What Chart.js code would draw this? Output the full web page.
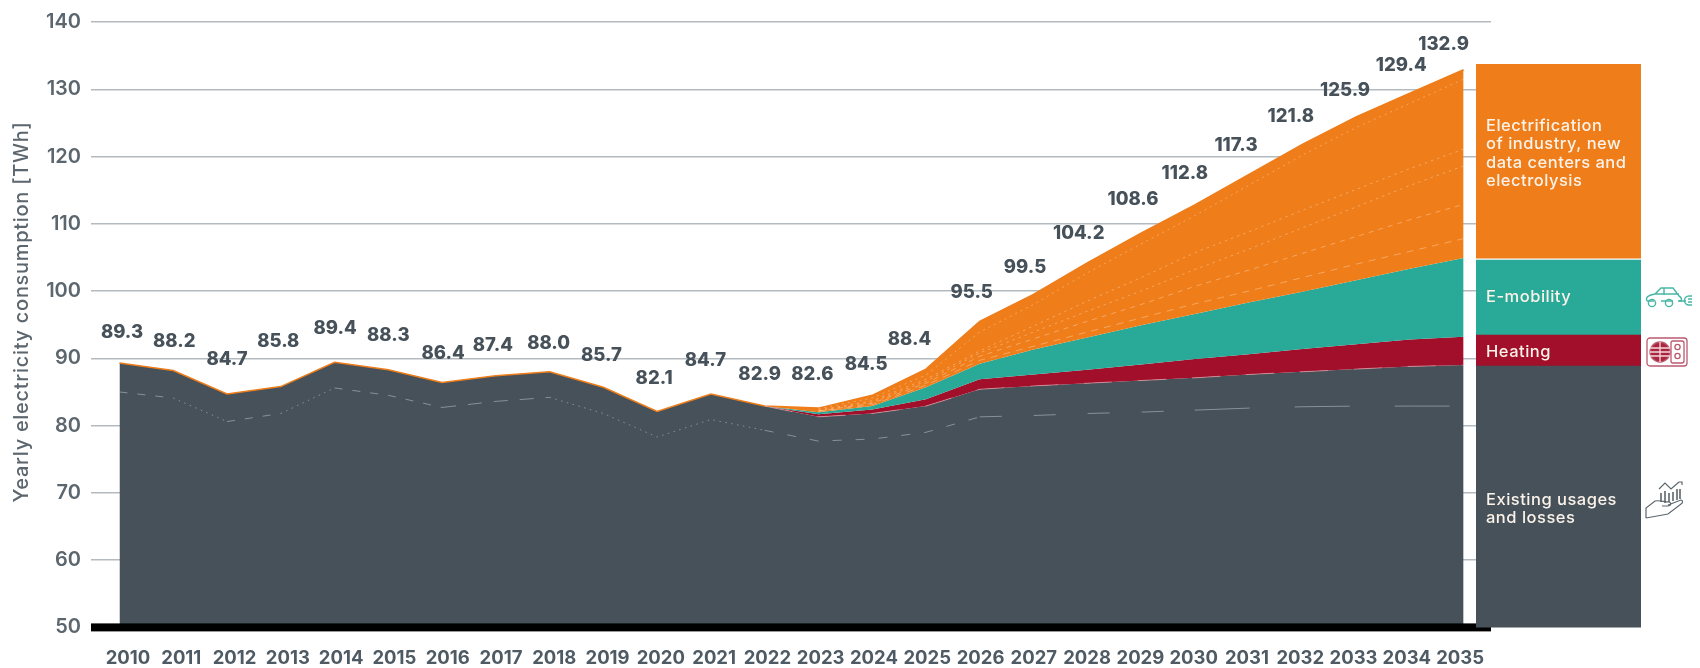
<!DOCTYPE html>
<html>
<head>
<meta charset="utf-8">
<title>Yearly electricity consumption</title>
<script src="https://cdn.jsdelivr.net/npm/chart.js@4"></script>
<style>
    html, body { margin: 0; padding: 0; background: #fff; }
    #wrap { position: relative; width: 1700px; height: 668px; overflow: hidden; }
    canvas { position: absolute; top: 0; }
    #main-chart { left: 0; }
    #block-chart { left: 1476px; }
    svg { position: absolute; fill: none; }
</style>
</head>
<body>
<div id="wrap">
    <canvas id="main-chart" width="1700" height="668"></canvas>
    <canvas id="block-chart" width="165" height="668"></canvas>
    <svg style="left:1645px;top:286px" width="48" height="23" viewBox="0 0 48 23" stroke="#29a997" stroke-width="1.4" opacity="0.85">
        <path d="M2 15c-2-4 2-6 8-7l6-6h12l6 8c2 1 3 3 2 5h-3M9 15H2M16 15h12M19 2v7M10 8h24"/>
        <circle cx="7" cy="17" r="3.6"/><circle cx="24" cy="17" r="3.6"/>
        <path d="M34 15h7M47 10h-3a4 4 0 0 0 0 9h3M43 13h4M43 16h4"/>
    </svg>
    <svg style="left:1646px;top:337px" width="42" height="31" viewBox="0 0 42 31" stroke="#b5485f" stroke-width="1.3" opacity="0.9">
        <rect x="1" y="1" width="40" height="28" rx="3"/>
        <rect x="25" y="4" width="13" height="22" rx="2"/>
        <circle cx="14" cy="15" r="10" fill="#a10f2b"/>
        <path d="M4 11h20M4 15h20M4 19h20M14 5v20" stroke="#f3d5da"/>
        <circle cx="31.5" cy="10" r="2.6"/><circle cx="31.5" cy="19" r="2.6"/>
    </svg>
    <svg style="left:1645px;top:481px" width="40" height="40" viewBox="0 0 40 40" stroke="#5d676e" stroke-width="1.2">
        <path d="M1 37V27l9-7c5-1 9 1 14 1 3 1 2 4-1 4h-6M23 24l13-5c2 0 2 3 0 4l-13 10-22 4"/>
        <path d="M16 21V12M20 22V10M24 21V12M28 20V11M32 19V8M35 18V8" stroke-width="1.6"/>
        <path d="M14 8l6-6 6 6 8-7M34 1h3v3"/>
    </svg>
</div>
<script>
const years = [2010,2011,2012,2013,2014,2015,2016,2017,2018,2019,2020,2021,2022,2023,2024,2025,2026,2027,2028,2029,2030,2031,2032,2033,2034,2035];
const yTicks = [50,60,70,80,90,100,110,120,130,140];

// cumulative levels, TWh
const total = [89.3,88.2,84.7,85.8,89.4,88.3,86.4,87.4,88.0,85.7,82.1,84.7,82.9,82.6,84.5,88.4,95.5,99.5,104.2,108.6,112.8,117.3,121.8,125.9,129.4,132.9];
const withMobility = [89.3,88.2,84.7,85.8,89.4,88.3,86.4,87.4,88.0,85.7,82.1,84.7,82.9,82.0,82.9,85.7,89.2,91.3,93.1,94.9,96.6,98.3,99.9,101.6,103.3,104.9];
const withHeating = [89.3,88.2,84.7,85.8,89.4,88.3,86.4,87.4,88.0,85.7,82.1,84.7,82.9,81.7,82.4,83.9,86.9,87.6,88.3,89.1,89.9,90.6,91.4,92.1,92.8,93.2];
const existing = [89.3,88.2,84.7,85.8,89.4,88.3,86.4,87.4,88.0,85.7,82.1,84.7,82.9,81.3,81.8,82.9,85.4,85.9,86.3,86.7,87.1,87.6,88.0,88.4,88.8,89.0];

// dashed sub-lines inside the areas
const existingLower = [85.0,84.1,80.6,81.8,85.6,84.5,82.7,83.6,84.2,81.8,78.3,80.9,79.3,77.7,78.0,79.0,81.3,81.5,81.8,82.0,82.3,82.6,82.8,82.9,82.9,82.9];
const existingEdge = [null,null,null,null,null,null,null,null,null,null,null,null,82.9,81.3,81.8,82.9,85.4,85.9,86.3,86.7,87.1,87.6,88.0,88.4,88.8,89.0];
const elecA = [null,null,null,null,null,null,null,null,null,null,null,null,null,82.5,84.1,87.5,93.9,98.0,102.7,107.0,111.2,115.7,120.2,124.3,127.9,131.5];
const elecB = [null,null,null,null,null,null,null,null,null,null,null,null,null,82.3,83.7,86.9,91.1,94.8,98.5,102.0,105.7,108.8,112.0,115.1,118.2,121.1];
const elecC = [null,null,null,null,null,null,null,null,null,null,null,null,null,82.2,83.5,86.6,90.8,93.9,97.0,100.0,103.2,106.2,109.4,112.5,115.7,118.6];
const elecD = [null,null,null,null,null,null,null,null,null,null,null,null,null,82.15,83.3,86.3,90.3,92.9,95.5,98.0,100.7,103.1,105.6,108.1,110.6,112.9];
const elecE = [null,null,null,null,null,null,null,null,null,null,null,null,null,82.1,83.1,86.0,89.7,91.8,93.9,96.0,98.1,100.0,102.0,104.0,105.9,107.8];

// the block on the right, stacked
const blockNames = ['Existing usages and losses','Heating','E-mobility','Electrification of industry, new data centers and electrolysis'];
const blockValues = [88.8,4.6,11.1,29.1];

const DARK = '#465159', ORANGE = '#ee7d1a', TEAL = '#29a997', RED = '#a10f2b';
const GRID = '#b3bbc1', TICK = '#5b666e', VALUE = '#46515a';
const FONT = 'Inter, "Noto Sans", sans-serif';

// where each value label sits relative to its point (dx, dy)
const labelShift = [[2.5,-31],[1,-29],[0,-35],[-2.5,-45.5],[.5,-34],[0,-34.5],[1,-29.5],[-3,-30.5],[-1,-28],[-2,-32],[-3,-33],[-5.5,-33.5],[-5,-32],[-6,-34],[-6,-31],[-16.5,-30],[-8,-29],[-8.5,-27],[-8.5,-29.5],[-8,-34],[-10,-31.5],[-12.5,-29],[-11.5,-27.5],[-11,-26],[-8.5,-27.5],[-20,-25.5]];

function lowerDash(ctx) {
    const i = ctx.p0DataIndex;
    if (i >= 20) return [55, 45];
    if (i >= 16) return [22, 32];
    if (i === 1 || i === 3 || (i >= 8 && i <= 11)) return [1.5, 4.5];
    if (i >= 12 && i <= 15) return [9, 14];
    if (i === 6 || i === 7) return [14, 12];
    return [8, 10];
}

function area(data, color, target) {
    return { data: data, backgroundColor: color, borderWidth: 0, pointRadius: 0, tension: 0, order: 5, fill: target };
}
function dashLine(data, dash) {
    return { data: data, fill: false, borderColor: 'rgba(255,225,195,0.42)', borderWidth: 1, borderDash: dash, pointRadius: 0, tension: 0, order: 0 };
}

const overlay = {
    id: 'overlay',
    afterDatasetsDraw(chart) {
        const { ctx, scales, chartArea } = chart;
        ctx.save();
        // thick black base line
        ctx.fillStyle = '#000';
        ctx.fillRect(chartArea.left, chartArea.bottom - 4, chartArea.right - chartArea.left, 8);

        ctx.font = '800 18.5px ' + FONT;
        ctx.fillStyle = VALUE;
        ctx.textAlign = 'center';
        ctx.textBaseline = 'middle';
        total.forEach((v, i) => {
            ctx.fillText(v.toFixed(1), scales.x.getPixelForValue(years[i]) + labelShift[i][0], scales.y.getPixelForValue(v) + labelShift[i][1]);
        });
        // y axis title, sits higher than the middle of the axis
        ctx.font = '500 20px ' + FONT;
        ctx.letterSpacing = '0.7px';
        ctx.fillStyle = TICK;
        ctx.translate(22, 312);
        ctx.rotate(-Math.PI / 2);
        ctx.fillText('Yearly electricity consumption [TWh]', 0, 0);
        ctx.restore();
    }
};

new Chart(document.getElementById('main-chart'), {
    type: 'line',
    data: {
        labels: years,
        datasets: [
            area(total, ORANGE, 1),
            area(withMobility, TEAL, 2),
            area(withHeating, RED, 3),
            area(existing, DARK, 'start'),
            { data: total, fill: false, borderColor: ORANGE, borderWidth: 1.5, pointRadius: 0, tension: 0, order: 1 },
            { data: existingEdge, fill: false, borderColor: 'rgba(235,175,180,0.6)', borderWidth: 1, borderDash: [28, 26], pointRadius: 0, tension: 0, order: 0 },
            {
                data: existingLower, fill: false, borderColor: 'rgba(200,208,213,0.5)', borderWidth: 1, pointRadius: 0, tension: 0, order: 0,
                segment: { borderDash: lowerDash }
            },
            dashLine(elecA, [2, 4]),
            dashLine(elecB, [2.5, 4]),
            dashLine(elecC, [2.5, 4]),
            dashLine(elecD, [5, 5]),
            dashLine(elecE, [7, 6])
        ]
    },
    options: {
        responsive: false,
        animation: false,
        events: [],
        layout: { padding: { top: 21, right: 209, left: 0, bottom: 0 } },
        plugins: { legend: { display: false }, tooltip: { enabled: false } },
        scales: {
            x: {
                type: 'linear', min: 2009.47, max: 2035.51,
                grid: { display: false },
                border: { display: false },
                ticks: { display: false },
                afterFit: s => { s.height = 0; }
            },
            years: {
                type: 'linear', position: 'bottom', weight: 1, min: 2009.306, max: 2035.58,
                grid: { display: false },
                border: { display: false },
                afterBuildTicks: s => { s.ticks = years.map(y => ({ value: y })); },
                ticks: {
                    autoSkip: false, maxRotation: 0, padding: 12, color: '#4f5b64',
                    font: { family: FONT, size: 18.5, weight: '700' },
                    callback: v => String(v)
                },
                afterFit: s => { s.height = 40.6; }
            },
            y: {
                min: 50, max: 140,
                afterBuildTicks: s => { s.ticks = yTicks.map(v => ({ value: v })); },
                grid: { color: GRID, lineWidth: 1.4, drawTicks: false },
                border: { display: false },
                ticks: { padding: 10, color: TICK, font: { family: FONT, size: 20, weight: '600' } },
                afterFit: s => { s.width = 91; }
            }
        }
    },
    plugins: [overlay]
});

const blockText = {
    id: 'blockText',
    afterDatasetsDraw(chart) {
        const ctx = chart.ctx;
        ctx.save();
        ctx.font = '500 16.5px ' + FONT;
        ctx.letterSpacing = '0.5px';
        ctx.fillStyle = '#fbf3ea';
        ctx.textBaseline = 'middle';
        [['Electrification', 126], ['of industry, new', 144], ['data centers and', 163], ['electrolysis', 181],
         ['E-mobility', 297], ['Heating', 352], ['Existing usages', 500], ['and losses', 518]]
            .forEach(t => ctx.fillText(t[0], 10, t[1]));
        ctx.restore();
    }
};

function blockBar(i, color, extra) {
    return Object.assign({ label: blockNames[i], data: [blockValues[i]], backgroundColor: color, barPercentage: 1, categoryPercentage: 1, stack: 'block' }, extra);
}

new Chart(document.getElementById('block-chart'), {
    type: 'bar',
    data: {
        labels: ['2035'],
        datasets: [
            blockBar(0, DARK),
            blockBar(1, RED),
            blockBar(2, TEAL),
            blockBar(3, ORANGE, { borderColor: '#fff', borderWidth: { bottom: 2 }, borderSkipped: false })
        ]
    },
    options: {
        responsive: false,
        animation: false,
        events: [],
        layout: { padding: { top: 21, bottom: 40.6 } },
        plugins: { legend: { display: false }, tooltip: { enabled: false } },
        scales: {
            x: { display: false, stacked: true },
            y: { display: false, stacked: true, min: 50, max: 140 }
        }
    },
    plugins: [blockText]
});
</script>
</body>
</html>
